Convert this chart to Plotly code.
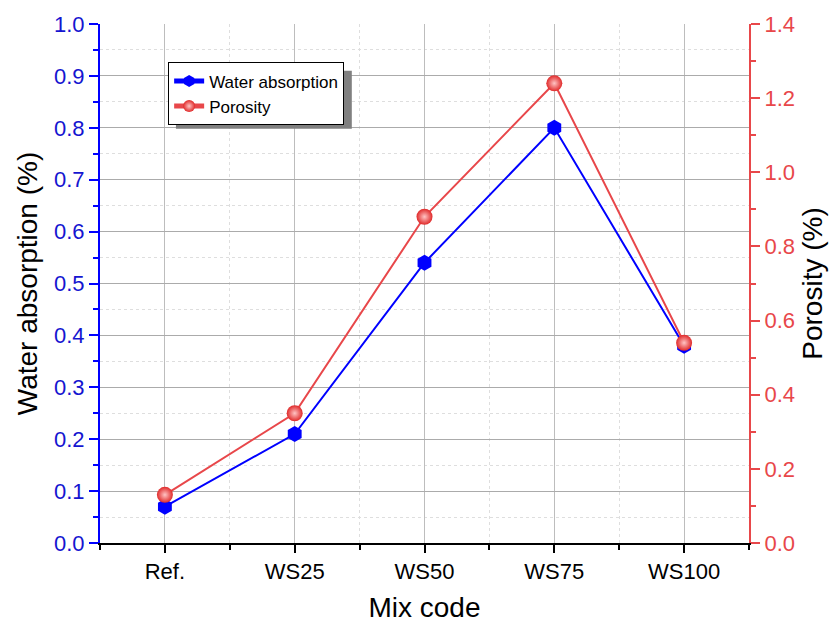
import plotly.graph_objects as go

categories = ["Ref.", "WS25", "WS50", "WS75", "WS100"]
water_absorption = [0.07, 0.21, 0.54, 0.80, 0.38]
porosity = [0.13, 0.35, 0.88, 1.24, 0.54]

xi = list(range(len(categories)))
FONT = "Liberation Sans, Arial, sans-serif"
BLUE = "#0000ff"
RED = "#e8474a"

fig = go.Figure()
fig.add_trace(go.Scatter(
    x=xi, y=water_absorption, name="Water absorption", mode="lines+markers",
    line=dict(color=BLUE, width=2),
    marker=dict(symbol="hexagon", size=16, color=BLUE, line=dict(width=0)),
    yaxis="y"))
fig.add_trace(go.Scatter(
    x=xi, y=porosity, name="Porosity", mode="lines+markers",
    line=dict(color=RED, width=2),
    marker=dict(symbol="circle", size=16, color="#e02a2a",
                gradient=dict(type="radial", color="#ffc4c4"), line=dict(width=0)),
    yaxis="y2"))

fig.update_layout(
    width=835, height=630,
    margin=dict(l=100, r=84, t=24, b=81),
    paper_bgcolor="white", plot_bgcolor="white",
    font=dict(family=FONT, size=22, color="black"),
    showlegend=True,
    legend=dict(x=0.105, y=0.926, xanchor="left", yanchor="top",
                bgcolor="white", bordercolor="black", borderwidth=1,
                font=dict(size=17, family=FONT), tracegroupgap=0,
                itemsizing="constant"),
    xaxis=dict(
        range=[-0.5, 4.5], tickmode="array", tickvals=xi, ticktext=categories,
        showline=True, linecolor="black", linewidth=2,
        ticks="outside", ticklen=8, tickwidth=2, tickcolor="black",
        showgrid=True, gridcolor="#bdbdbd", gridwidth=1,
        minor=dict(dtick=0.5, tick0=-0.5, ticks="outside", ticklen=5, tickwidth=1.5,
                   tickcolor="black", showgrid=True, gridcolor="#dedede", griddash="dot"),
        zeroline=False,
        title=dict(text="Mix code", font=dict(size=28), standoff=14),
        tickfont=dict(size=22, color="black"),
    ),
    xaxis2=dict(
        range=[-0.5, 4.5], overlaying="x", side="top", anchor="y",
        tickmode="array", tickvals=xi, showticklabels=False,
        showline=True, linecolor="black", linewidth=2,
        ticks="inside", ticklen=8, tickwidth=2, tickcolor="black",
        minor=dict(dtick=0.5, tick0=-0.5, ticks="inside", ticklen=5, tickwidth=1.5, tickcolor="black"),
        showgrid=False, zeroline=False,
    ),
    yaxis=dict(
        range=[0, 1.0], dtick=0.1, tickformat=".1f",
        showline=True, linecolor=BLUE, linewidth=2,
        ticks="outside", ticklen=9, tickwidth=2, tickcolor=BLUE,
        tickfont=dict(size=22, color="#1515d0"),
        showgrid=True, gridcolor="#ababab", gridwidth=1,
        minor=dict(dtick=0.05, ticks="outside", ticklen=5, tickwidth=2, tickcolor=BLUE,
                   showgrid=True, gridcolor="#dedede", griddash="dot"),
        zeroline=False,
        title=dict(text="Water absorption (%)", font=dict(size=28), standoff=8),
    ),
    yaxis2=dict(
        range=[0, 1.4], dtick=0.2, tickformat=".1f", overlaying="y", side="right",
        showline=True, linecolor=RED, linewidth=2,
        ticks="outside", ticklen=9, tickwidth=2, tickcolor=RED,
        tickfont=dict(size=22, color=RED),
        showgrid=False, zeroline=False,
        minor=dict(dtick=0.1, ticks="outside", ticklen=5, tickwidth=2, tickcolor=RED),
        title=dict(text="Porosity (%)", font=dict(size=28), standoff=8),
    ),
)

# legend drop shadow
fig.add_shape(type="rect", xref="paper", yref="paper",
              x0=0.117, x1=0.388, y0=0.798, y1=0.91,
              fillcolor="#808080", line=dict(width=0), layer="above")

fig.write_html("out.html")
